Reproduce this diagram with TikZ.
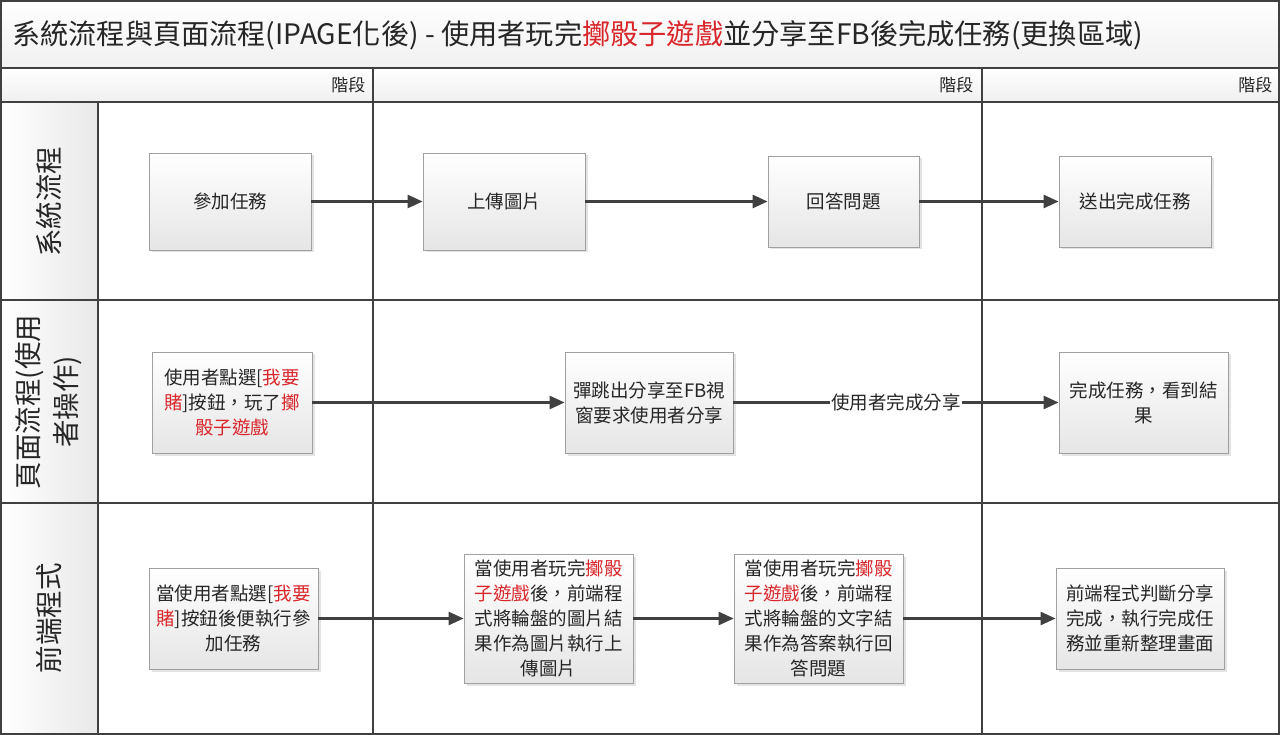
\documentclass[tikz,border=0pt]{standalone}
\usepackage{fontspec}
\setmainfont{Noto Sans CJK TC}[Script=CJK,Language=Chinese Traditional]
\usetikzlibrary{arrows.meta,shadows}
\definecolor{ln}{HTML}{404040}
\definecolor{bd}{HTML}{A0A0A0}
\definecolor{rd}{HTML}{D9262B}
\definecolor{tx}{HTML}{262626}
\newcommand{\redt}[1]{\textcolor{rd}{#1}}
\tikzset{
 box/.style={draw=bd, line width=0.8pt, top color=white, bottom color=black!10,
   drop shadow={opacity=0.22,shadow xshift=2.5pt,shadow yshift=-2.5pt},
   align=center, font=\fontsize{18.5}{25}\selectfont, text=tx, inner sep=0pt},
 flow/.style={draw=ln, line width=2.6pt, -{Triangle[length=15pt,width=13pt]}},
 grid/.style={draw=ln, line width=2pt},
 hdr/.style={font=\fontsize{17}{20}\selectfont, text=tx, anchor=east},
 lane/.style={font=\fontsize{27.5}{38}\selectfont, text=tx, rotate=90, align=center},
 flowlabel/.style={fill=white, inner sep=1pt, font=\fontsize{18.5}{22}\selectfont, text=tx},
}
\begin{document}
\begin{tikzpicture}[x=1pt,y=-1pt]
\useasboundingbox (0,0) rectangle (1280,735);
% backgrounds
\shade[top color=white, bottom color=black!6] (0,0) rectangle (1280,68);
\shade[top color=white, bottom color=black!6] (0,68) rectangle (1280,102);
\shade[left color=white, right color=black!9] (0,102) rectangle (98,735);
% grid
\draw[grid] (1,1) rectangle (1279,734);
\draw[grid] (0,68) -- (1280,68);
\draw[grid] (0,102) -- (1280,102);
\draw[grid] (0,300) -- (1280,300);
\draw[grid] (0,503) -- (1280,503);
\draw[grid] (98,102) -- (98,735);
\draw[grid] (373,68) -- (373,735);
\draw[grid] (982,68) -- (982,735);
% title
\node[anchor=west, font=\fontsize{28.2}{32}\selectfont, text=tx, inner sep=0pt] (title) at (12,35)
 {系統流程與頁面流程(IPAGE化後) - 使用者玩完\redt{擲骰子遊戲}並分享至FB後完成任務(更換區域)};
% headers
\node[hdr] (h1) at (369,85) {階段};
\node[hdr] (h2) at (977,85) {階段};
\node[hdr] (h3) at (1276,85) {階段};
% lane labels
\node[lane] (l1) at (49,202) {系統流程};
\node[lane] (l2) at (49,402) {頁面流程(使用\\者操作)};
\node[lane] (l3) at (49,618) {前端程式};
% lane 1
\node[box, minimum width=162pt, minimum height=97pt] (A1) at (230,201.5) {參加任務};
\node[box, minimum width=162pt, minimum height=97pt] (A2) at (504,201.5) {上傳圖片};
\node[box, minimum width=151pt, minimum height=91pt] (A3) at (843.5,201.5) {回答問題};
\node[box, minimum width=152pt, minimum height=91pt] (A4) at (1135,201.5) {送出完成任務};
% lane 2
\node[box, minimum width=160pt, minimum height=101pt] (B1) at (232,402.5)
 {使用者點選[\redt{我要}\\\redt{賭}]按鈕，玩了\redt{擲}\\\redt{骰子遊戲}};
\node[box, minimum width=168pt, minimum height=101pt] (B2) at (649,402.5)
 {彈跳出分享至FB視\\窗要求使用者分享};
\node[box, minimum width=169pt, minimum height=101pt] (B3) at (1143.5,402.5)
 {完成任務，看到結\\果};
% lane 3
\node[box, minimum width=169pt, minimum height=101pt] (C1) at (233.5,618.5)
 {當使用者點選[\redt{我要}\\\redt{賭}]按鈕後便執行參\\加任務};
\node[box, minimum width=169pt, minimum height=129pt] (C2) at (548.5,618.5)
 {當使用者玩完\redt{擲骰}\\\redt{子遊戲}後，前端程\\式將輪盤的圖片結\\果作為圖片執行上\\傳圖片};
\node[box, minimum width=169pt, minimum height=129pt] (C3) at (818.5,618.5)
 {當使用者玩完\redt{擲骰}\\\redt{子遊戲}後，前端程\\式將輪盤的文字結\\果作為答案執行回\\答問題};
\node[box, minimum width=168pt, minimum height=101pt] (C4) at (1140,618.5)
 {前端程式判斷分享\\完成，執行完成任\\務並重新整理畫面};
% connectors
\draw[flow] (A1) -- (A2);
\draw[flow] (A2) -- (A3);
\draw[flow] (A3) -- (A4);
\draw[flow] (B1) -- (B2);
\draw[flow] (B2) -- node[flowlabel] {使用者完成分享} (B3);
\draw[flow] (C1) -- (C2);
\draw[flow] (C2) -- (C3);
\draw[flow] (C3) -- (C4);
\end{tikzpicture}
\end{document}
